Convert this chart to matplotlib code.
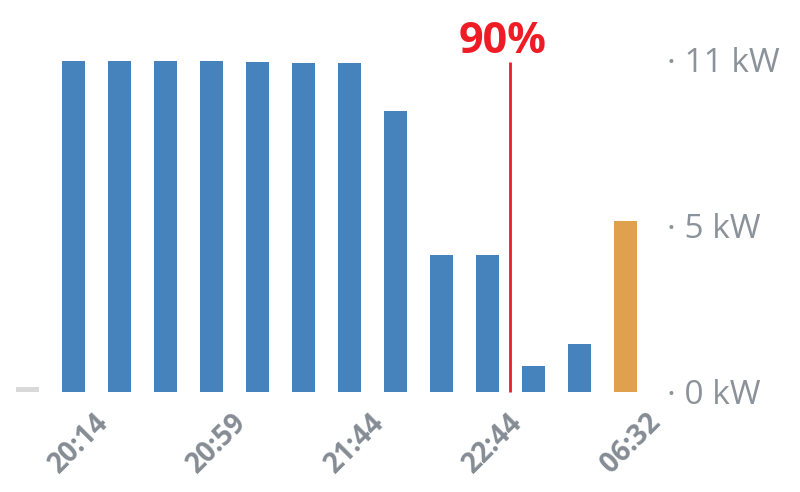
import matplotlib
matplotlib.use("Agg")
import matplotlib.pyplot as plt
import matplotlib.transforms as mtransforms

# Data
values = [0.15, 10.58, 10.58, 10.58, 10.56, 10.55, 10.51, 10.51, 8.97, 4.37, 4.37, 0.83, 1.53, 5.46]
bar_colors = ["#d9d9d9"] + ["#4682bb"] * 12 + ["#e0a14e"]
tick_positions = [1, 4, 7, 10, 13]
tick_labels = ["20:14", "20:59", "21:44", "22:44", "06:32"]
y_ticks = [0, 5.3, 10.6]
marker_x = 10.5
marker_top = 10.55
marker_label = "90%"

fig = plt.figure(figsize=(8, 4.92), dpi=100)
ax = fig.add_axes([4 / 800, 1 - 392 / 492, (648 - 4) / 800, (392 - 60) / 492])

x = list(range(len(values)))
ax.bar(x, values, width=0.5, color=bar_colors, linewidth=0)

ax.set_xlim(-0.5, 13.5)
ax.set_ylim(0, 10.6)

for s in ax.spines.values():
    s.set_visible(False)

# y ticks on right
ax.yaxis.tick_right()
ax.set_yticks(y_ticks)
ax.set_yticklabels([f"· {v:.0f} kW" for v in y_ticks])
ax.tick_params(axis="y", length=0, pad=14, labelsize=24, labelcolor="#8b9299")
for lab in ax.get_yticklabels():
    lab.set_fontfamily("Open Sans")

# x ticks
ax.set_xticks(tick_positions)
ax.set_xticklabels(tick_labels)
ax.tick_params(axis="x", length=0, pad=0, labelsize=20, labelcolor="#858c94")
offset = mtransforms.ScaledTranslation(21 / 100, -16 / 100, fig.dpi_scale_trans)
for lab in ax.get_xticklabels():
    lab.set_fontfamily("Open Sans")
    lab.set_fontweight("bold")
    lab.set_rotation(45)
    lab.set_ha("right")
    lab.set_va("top")
    lab.set_rotation_mode("anchor")
    lab.set_transform(lab.get_transform() + offset)

# red marker
ax.plot([marker_x, marker_x], [0, marker_top], color="#ee1c25", linewidth=2, clip_on=False, solid_capstyle="butt")
ax.text(marker_x, 10.82, marker_label, color="#ee1c25", fontsize=31, fontweight="bold",
        fontfamily="Open Sans", ha="center", va="baseline", clip_on=False,
        transform=ax.transData + mtransforms.ScaledTranslation(-7 / 100, 0, fig.dpi_scale_trans))

fig.savefig("out.png", dpi=100)
